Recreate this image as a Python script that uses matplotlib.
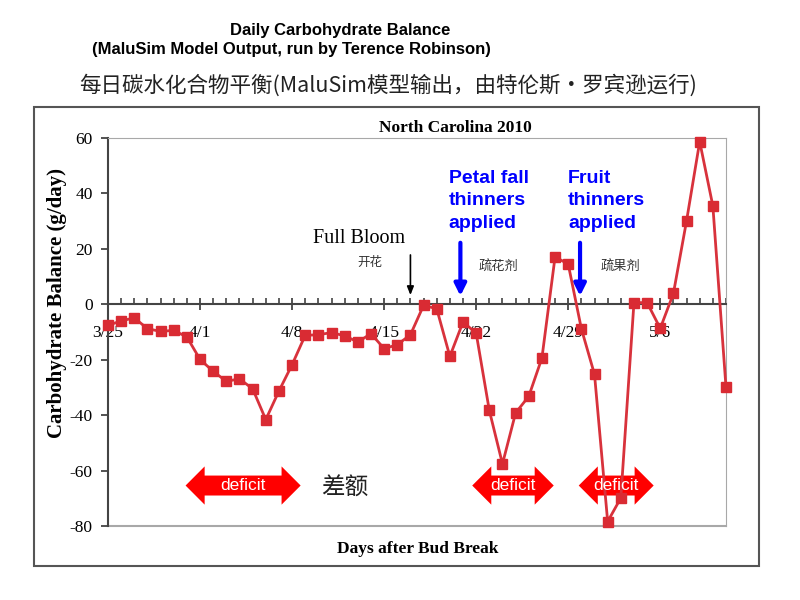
import matplotlib
matplotlib.use("Agg")
import matplotlib.pyplot as plt
from matplotlib.patches import Polygon, Rectangle
from matplotlib.ticker import MultipleLocator

# daily carbohydrate balance (g/day), one value per day from 3/25
days = list(range(48))
balance = [-7.6, -6.0, -4.9, -8.8, -9.8, -9.4, -11.8, -19.9, -24.2, -27.8,
           -26.9, -30.5, -41.6, -31.3, -21.8, -11.2, -11.0, -10.2, -11.4, -13.6,
           -10.6, -16.0, -14.6, -11.0, -0.4, -1.6, -18.8, -6.4, -10.4, -38.3,
           -57.6, -39.2, -33.2, -19.4, 17.1, 14.5, -8.8, -25.3, -78.4, -69.9,
           0.6, 0.6, -8.7, 3.9, 30.1, 58.7, 35.5, -29.9]
date_ticks = [0, 7, 14, 21, 28, 35, 42]
date_labels = ['3/25', '4/1', '4/8', '4/15', '4/22', '4/29', '5/6']
y_ticks = [60, 40, 20, 0, -20, -40, -60, -80]

# deficit periods (start day, end day)
deficits = [(5.9, 14.65), (27.7, 33.9), (35.8, 41.5)]

serif = 'Liberation Serif'
sans = 'Liberation Sans'
cjk = ['Noto Sans CJK SC', 'DejaVu Sans']

fig = plt.figure(figsize=(8, 6), dpi=100)
fig.patches.append(Rectangle((34 / 800, 1 - 566 / 600), 725 / 800, 459 / 600,
                             transform=fig.transFigure, fill=False,
                             edgecolor='#555555', lw=1.5))

fig.text(0.425, 0.95, 'Daily Carbohydrate Balance', ha='center', va='center',
         family=sans, weight='bold', fontsize=12)
fig.text(0.364, 0.917, '(MaluSim Model Output, run by Terence Robinson)',
         ha='center', va='center', family=sans, weight='bold', fontsize=12)
fig.text(0.485, 0.858, '每日碳水化合物平衡(MaluSim模型输出，由特伦斯•罗宾逊运行)',
         ha='center', va='center', family=cjk, fontsize=15.5, color='#222222')

ax = fig.add_axes([108 / 800, 1 - 526 / 600, 618 / 800, 388 / 600])
ax.set_xlim(0, 47)
ax.set_ylim(-80, 60)

ax.plot(days, balance, color='#D8323C', lw=2, marker='s', markersize=7,
        markerfacecolor='#D92B33', markeredgecolor='#D92B33', zorder=4,
        clip_on=False)

ax.spines['bottom'].set_position(('data', 0))
ax.spines['bottom'].set_color('#444444')
ax.spines['left'].set_color('#444444')
ax.spines['left'].set_linewidth(1.5)
ax.spines['bottom'].set_linewidth(1.5)
for s in ['top', 'right']:
    ax.spines[s].set_color('#A8A8A8')
ax.axhline(-80, color='#A8A8A8', lw=1.5, clip_on=False, zorder=1)

ax.set_xticks(date_ticks)
ax.set_xticklabels(date_labels, family=serif, fontsize=12.5)
ax.xaxis.set_minor_locator(MultipleLocator(1))
ax.tick_params(axis='x', which='major', direction='inout', length=8, width=1.3,
               color='#444444', pad=11)
ax.tick_params(axis='x', which='minor', direction='in', length=4, width=1.2,
               color='#444444')
ax.set_yticks(y_ticks)
ax.set_yticklabels([str(v) for v in y_ticks], family=serif, fontsize=12.5)
ax.tick_params(axis='y', direction='out', length=5, width=1.3, color='#444444', pad=6)

fig.text(57 / 800, 1 - 303 / 600, 'Carbohydrate Balance (g/day)', ha='center',
         va='center', rotation=90, family=serif, weight='bold', fontsize=15)
fig.text(418 / 800, 1 - 549 / 600, 'Days after Bud Break', ha='center', va='center',
         family=serif, weight='bold', fontsize=12.5)
fig.text(455 / 800, 1 - 128 / 600, 'North Carolina 2010', ha='center', va='center',
         family=serif, weight='bold', fontsize=12.5)

# full bloom
ax.text(19.1, 23.9, 'Full Bloom', ha='center', va='center', family=serif, fontsize=14.5)
ax.text(19.9, 15.2, '开花', ha='center', va='center', family=cjk, fontsize=9, color='#333333')
ax.annotate('', xy=(23, 2.3), xytext=(23, 18.8),
            arrowprops=dict(arrowstyle='-|>,head_length=0.5,head_width=0.2',
                            color='black', lw=1.2))

# thinners
for x_txt, x_arr, label, cn, x_cn in [(25.9, 26.8, 'Petal fall\nthinners\napplied', '疏花剂', 29.7),
                                      (35.0, 35.9, 'Fruit\nthinners\napplied', '疏果剂', 39.0)]:
    ax.text(x_txt, 37.3, label, ha='left', va='center', family=sans, weight='bold',
            fontsize=14, color='#0000FF', linespacing=1.45)
    ax.annotate('', xy=(x_arr, 2.0), xytext=(x_arr, 23.2),
                arrowprops=dict(arrowstyle='-|>,head_length=0.7,head_width=0.35',
                                color='#0000FF', lw=3))
    ax.text(x_cn, 13.4, cn, ha='center', va='center', family=cjk, fontsize=9.5,
            color='#333333')

# deficit double arrows
yc, body, head, hl = -65.4, 3.6, 6.9, 1.45
for x0, x1 in deficits:
    pts = [(x0, yc), (x0 + hl, yc + head), (x0 + hl, yc + body), (x1 - hl, yc + body),
           (x1 - hl, yc + head), (x1, yc), (x1 - hl, yc - head), (x1 - hl, yc - body),
           (x0 + hl, yc - body), (x0 + hl, yc - head)]
    ax.add_patch(Polygon(pts, closed=True, facecolor='#FF0000', edgecolor='none', zorder=3))
    ax.text((x0 + x1) / 2, yc, 'deficit', ha='center', va='center', family=sans,
            fontsize=12.5, color='white', zorder=5)
ax.text(18.0, -66.5, '差额', ha='center', va='center', family=cjk, fontsize=17,
        color='#222222')

fig.savefig('out.png', dpi=100)
